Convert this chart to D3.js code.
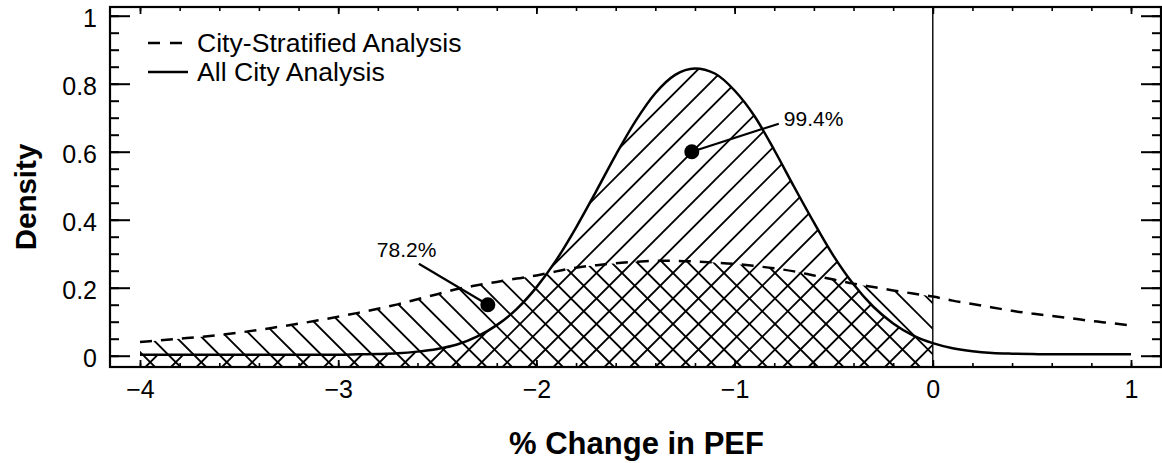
<!DOCTYPE html>
<html>
<head>
<meta charset="utf-8">
<script src="https://cdn.jsdelivr.net/npm/d3@7"></script>
<style>
  html, body { margin: 0; padding: 0; background: #fff; }
  svg { display: block; font-family: "Liberation Sans", Arial, Helvetica, sans-serif; }
</style>
</head>
<body>
<svg id="chart" width="1162" height="463"></svg>
<script>
// Grid of % change in PEF where both densities are given
const pefChange = [
  -4.0, -3.9, -3.8, -3.7, -3.6, -3.5, -3.4, -3.3, -3.2, -3.1,
  -3.0, -2.9, -2.8, -2.7, -2.6, -2.5, -2.4, -2.3, -2.2, -2.1,
  -2.0, -1.9, -1.8, -1.7, -1.6, -1.5, -1.4, -1.3, -1.2, -1.1,
  -1.0, -0.9, -0.8, -0.7, -0.6, -0.5, -0.4, -0.3, -0.2, -0.1,
   0.0,  0.1,  0.2,  0.3,  0.4,  0.5,  0.6,  0.7,  0.8,  0.9, 1.0
];

// Posterior density, all-city analysis (solid)
const allCityDensity = [
  0.003, 0.003, 0.003, 0.003, 0.003, 0.003, 0.003, 0.003, 0.003, 0.003,
  0.003, 0.004, 0.005, 0.007, 0.012, 0.020, 0.033, 0.056, 0.090, 0.137,
  0.201, 0.281, 0.377, 0.482, 0.590, 0.690, 0.772, 0.826, 0.845, 0.830,
  0.780, 0.705, 0.605, 0.497, 0.392, 0.293, 0.210, 0.144, 0.095, 0.060,
  0.037, 0.022, 0.013, 0.008, 0.006, 0.005, 0.004, 0.004, 0.004, 0.004, 0.004
];

// Posterior density, city-stratified analysis (dashed)
const cityStratDensity = [
  0.040, 0.045, 0.050, 0.055, 0.061, 0.068, 0.076, 0.085, 0.094, 0.104,
  0.115, 0.126, 0.138, 0.151, 0.166, 0.181, 0.196, 0.207, 0.217, 0.227,
  0.236, 0.248, 0.259, 0.266, 0.272, 0.276, 0.279, 0.279, 0.277, 0.274,
  0.270, 0.264, 0.257, 0.248, 0.236, 0.224, 0.212, 0.202, 0.192, 0.183,
  0.174, 0.162, 0.152, 0.142, 0.132, 0.124, 0.117, 0.110, 0.102, 0.096, 0.089
];

// Probability of a decrease (area below 0), with a marker point for each
const probLabels = ["99.4%", "78.2%"];
const probPointX = [-1.216, -2.245];
const probPointY = [0.60, 0.15];

// Axis ticks
const xTickValues = [-4, -3, -2, -1, 0, 1];
const yTickValues = [0, 0.2, 0.4, 0.6, 0.8, 1];
const yTickLabels = ["0", "0.2", "0.4", "0.6", "0.8", "1"];

const seriesNames = ["City-Stratified Analysis", "All City Analysis"];

// ---------------------------------------------------------------
const svg = d3.select("#chart");
const plot = { left: 110, right: 1161, top: 7, bottom: 367 };

const x = d3.scaleLinear().domain([-4.1514, 1.1514]).range([plot.left, plot.right]);
const y = d3.scaleLinear().domain([-0.0332, 1.0256]).range([plot.bottom, plot.top]);

const xMinor = d3.range(-20, 6).map(i => i / 5);
const yMinor = d3.range(0, 21).map(i => i / 20);

const rows = pefChange.map((v, i) => ({ x: v, all: allCityDensity[i], strat: cityStratDensity[i] }));
const belowZero = rows.filter(d => d.x <= 0);

const curve = d3.curveMonotoneX;
const lineAll = d3.line().x(d => x(d.x)).y(d => y(d.all)).curve(curve);
const lineStrat = d3.line().x(d => x(d.x)).y(d => y(d.strat)).curve(curve);
const areaAll = d3.area().x(d => x(d.x)).y0(plot.bottom).y1(d => y(d.all)).curve(curve);
const areaStrat = d3.area().x(d => x(d.x)).y0(plot.bottom).y1(d => y(d.strat)).curve(curve);

// clip regions for the hatching: mass below zero of each posterior
const defs = svg.append("defs");
defs.append("clipPath").attr("id", "clip-strat").append("path").attr("d", areaStrat(belowZero));
defs.append("clipPath").attr("id", "clip-all").append("path").attr("d", areaAll(belowZero));

const hatchGap = 25.5;
function hatch(group, dir, anchor) {
  // dir = +1 : lines rising to the right (x + y = c); -1 : falling (x - y = c)
  const cs = [];
  const lo = dir > 0 ? plot.left + plot.top : plot.left - plot.bottom;
  const hi = dir > 0 ? plot.right + plot.bottom : plot.right - plot.top;
  let c0 = anchor - Math.ceil((anchor - lo) / hatchGap) * hatchGap;
  for (let c = c0; c <= hi; c += hatchGap) cs.push(c);
  group.selectAll("line").data(cs).join("line")
    .attr("x1", c => dir > 0 ? c - plot.bottom : c + plot.top)
    .attr("y1", c => dir > 0 ? plot.bottom : plot.top)
    .attr("x2", c => dir > 0 ? c - plot.top : c + plot.bottom)
    .attr("y2", c => dir > 0 ? plot.top : plot.bottom)
    .attr("stroke", "#000")
    .attr("stroke-width", 1.9);
}

hatch(svg.append("g").attr("clip-path", "url(#clip-strat)"), -1, 604);
hatch(svg.append("g").attr("clip-path", "url(#clip-all)"), 1, 793);

// reference line at zero change
svg.append("line")
  .attr("x1", x(0)).attr("x2", x(0))
  .attr("y1", plot.top).attr("y2", plot.bottom)
  .attr("stroke", "#000").attr("stroke-width", 1.4);

// density curves
svg.append("path").attr("d", lineStrat(rows))
  .attr("fill", "none").attr("stroke", "#000").attr("stroke-width", 2.5)
  .attr("stroke-dasharray", "12,9");
svg.append("path").attr("d", lineAll(rows))
  .attr("fill", "none").attr("stroke", "#000").attr("stroke-width", 2.5);

// axes: inward ticks on all four sides
function styleAxis(g, width) {
  g.select(".domain").remove();
  g.selectAll(".tick line").attr("stroke", "#000").attr("stroke-width", width);
  g.selectAll(".tick text").attr("fill", "#000");
  g.attr("font-family", null).attr("font-size", 25);
}

svg.append("g").attr("transform", `translate(0,${plot.bottom})`)
  .call(d3.axisBottom(x).tickValues(xMinor).tickSize(-4).tickFormat(""))
  .call(g => styleAxis(g, 1.6));
svg.append("g").attr("transform", `translate(0,${plot.bottom})`)
  .call(d3.axisBottom(x).tickValues(xTickValues).tickSize(-7).tickPadding(13).tickFormat(d3.format("d")))
  .call(g => styleAxis(g, 1.8));
svg.append("g").attr("transform", `translate(0,${plot.top})`)
  .call(d3.axisTop(x).tickValues(xMinor).tickSize(-4).tickFormat(""))
  .call(g => styleAxis(g, 1.6));
svg.append("g").attr("transform", `translate(0,${plot.top})`)
  .call(d3.axisTop(x).tickValues(xTickValues).tickSize(-7).tickFormat(""))
  .call(g => styleAxis(g, 1.8));

svg.append("g").attr("transform", `translate(${plot.left},0)`)
  .call(d3.axisLeft(y).tickValues(yMinor).tickSize(-9).tickFormat(""))
  .call(g => styleAxis(g, 2));
svg.append("g").attr("transform", `translate(${plot.left},0)`)
  .call(d3.axisLeft(y).tickValues(yTickValues).tickSize(-20).tickPadding(13)
        .tickFormat((d, i) => yTickLabels[i]))
  .call(g => styleAxis(g, 2))
  .call(g => g.selectAll(".tick text").attr("dy", "0.44em"));
svg.append("g").attr("transform", `translate(${plot.right},0)`)
  .call(d3.axisRight(y).tickValues(yMinor).tickSize(-9).tickFormat(""))
  .call(g => styleAxis(g, 2));
svg.append("g").attr("transform", `translate(${plot.right},0)`)
  .call(d3.axisRight(y).tickValues(yTickValues).tickSize(-20).tickFormat(""))
  .call(g => styleAxis(g, 2));

// frame
svg.append("rect")
  .attr("x", plot.left).attr("y", plot.top)
  .attr("width", plot.right - plot.left).attr("height", plot.bottom - plot.top)
  .attr("fill", "none").attr("stroke", "#000").attr("stroke-width", 2.2);

// axis titles
svg.append("text")
  .attr("x", (plot.left + plot.right) / 2 + 1).attr("y", 454)
  .attr("text-anchor", "middle").attr("font-weight", "bold").attr("font-size", 31)
  .text("% Change in PEF");
svg.append("text")
  .attr("transform", "translate(36,197) rotate(-90)")
  .attr("text-anchor", "middle").attr("font-weight", "bold").attr("font-size", 29.5)
  .text("Density");

// legend
const legend = svg.append("g").attr("transform", "translate(148,0)");
legend.append("line").attr("x1", 0).attr("x2", 34).attr("y1", 43).attr("y2", 43)
  .attr("stroke", "#000").attr("stroke-width", 2.4).attr("stroke-dasharray", "12,10");
legend.append("line").attr("x1", 0).attr("x2", 40).attr("y1", 72).attr("y2", 72)
  .attr("stroke", "#000").attr("stroke-width", 2.4);
legend.append("text").attr("x", 49).attr("y", 52).attr("font-size", 26.6).text(seriesNames[0]);
legend.append("text").attr("x", 49).attr("y", 81).attr("font-size", 26.6).text(seriesNames[1]);

// probability call-outs
const calloutOffsets = [
  { lx: 87, ly: -28, tx: 92, ty: -26 },
  { lx: -69, ly: -41, tx: -111, ty: -48 }
];
probLabels.forEach((lab, i) => {
  const px = x(probPointX[i]), py = y(probPointY[i]);
  const o = calloutOffsets[i];
  svg.append("line").attr("x1", px).attr("y1", py).attr("x2", px + o.lx).attr("y2", py + o.ly)
    .attr("stroke", "#000").attr("stroke-width", 2.2);
  svg.append("circle").attr("cx", px).attr("cy", py).attr("r", 7.5).attr("fill", "#000");
  svg.append("text").attr("x", px + o.tx).attr("y", py + o.ty).attr("font-size", 21).text(lab);
});
</script>
</body>
</html>
